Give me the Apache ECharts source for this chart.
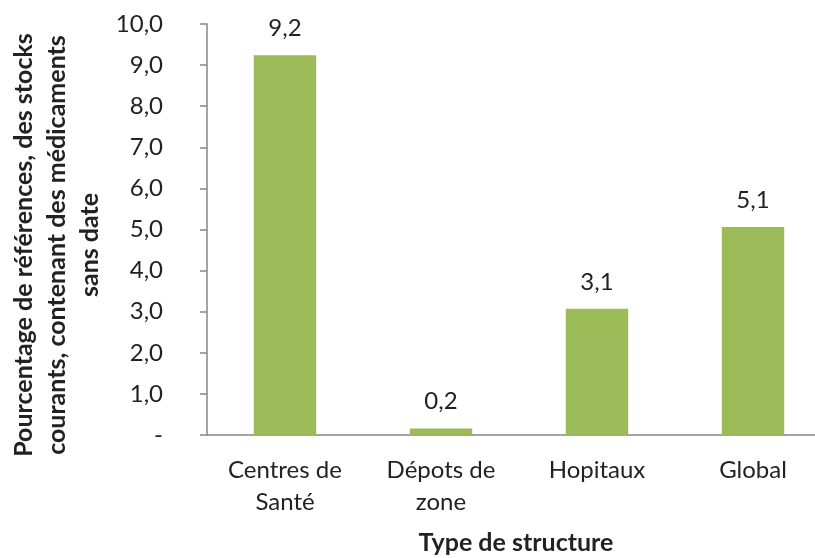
<!DOCTYPE html>
<html>
<head>
<meta charset="utf-8">
<script src="https://cdn.jsdelivr.net/npm/echarts@6/dist/echarts.min.js"></script>
<style>
html,body{margin:0;padding:0;background:#fff;overflow:hidden;}
/* l'axe X dépasse à droite de l'image d'origine */
#main{width:831px;height:558px;}
</style>
</head>
<body>
<div id="main"></div>
<script>
// catégories et valeurs
var categories = ['Centres de\nSanté', 'Dépots de\nzone', 'Hopitaux', 'Global'];
var values = [9.24, 0.16, 3.07, 5.06];
var yTicks = [0, 1, 2, 3, 4, 5, 6, 7, 8, 9, 10];

var fontFam = 'Lato, "Open Sans", sans-serif';

function fmt(v) {
	if (v === 0) return '-';
	return v.toFixed(1).replace('.', ',');
}

var myChart = echarts.init(document.getElementById('main'));

var option = {
	animation: false,
	grid: { left: 207, top: 24, right: 0, height: 411 },
	xAxis: {
		type: 'category',
		data: categories,
		axisLine: { lineStyle: { color: '#868686', width: 1.5 } },
		axisTick: { show: false },
		axisLabel: {
			color: '#222', fontSize: 24, fontFamily: fontFam,
			lineHeight: 32, margin: 19, interval: 0
		}
	},
	yAxis: {
		type: 'value',
		min: yTicks[0],
		max: yTicks[yTicks.length - 1],
		interval: 1,
		splitLine: { show: false },
		axisLine: { show: true, lineStyle: { color: '#868686', width: 1.5 } },
		axisTick: { show: true, length: 7, lineStyle: { color: '#868686', width: 1.5 } },
		axisLabel: {
			color: '#222', fontSize: 24, fontFamily: fontFam, margin: 44,
			formatter: function (v) { return fmt(v); }
		}
	},
	series: [{
		type: 'bar',
		data: values,
		barWidth: '40%',
		itemStyle: { color: '#9BBB59' },
		label: {
			show: true, position: 'top', distance: 15,
			color: '#222', fontSize: 24, fontFamily: fontFam,
			formatter: function (p) { return fmt(p.value); }
		}
	}],
	graphic: [{
		// titre de l'axe Y sur trois lignes
		type: 'text',
		x: 57, y: 245,
		rotation: Math.PI / 2,
		style: {
			text: 'Pourcentage de références, des stocks\ncourants, contenant des médicaments\nsans date',
			fill: '#222',
			font: 'bold 25px ' + fontFam,
			lineHeight: 33,
			align: 'center',
			verticalAlign: 'middle'
		}
	}, {
		// titre de l'axe X
		type: 'text',
		x: 516, y: 543,
		style: {
			text: 'Type de structure',
			fill: '#222',
			font: 'bold 25px ' + fontFam,
			align: 'center',
			verticalAlign: 'middle'
		}
	}]
};

myChart.setOption(option);
</script>
</body>
</html>
